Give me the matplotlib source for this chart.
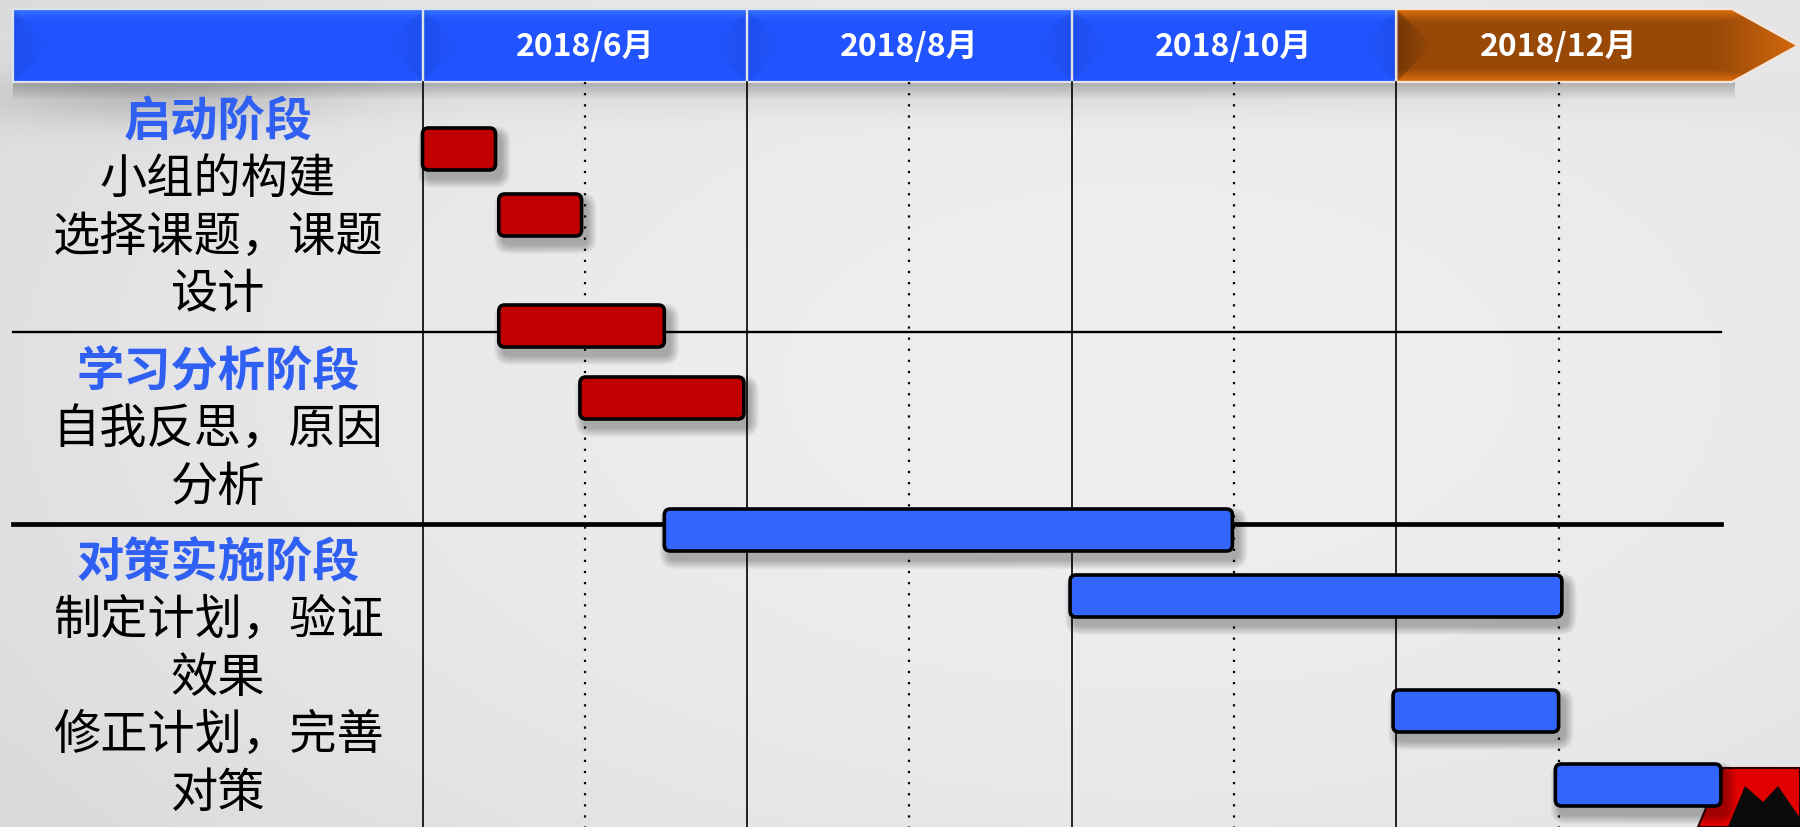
import numpy as np
import matplotlib.pyplot as plt
from matplotlib.patches import FancyBboxPatch, Polygon, Rectangle

plt.rcParams['font.family'] = ['Noto Sans CJK SC', 'DejaVu Sans']

# header periods, each one spans two months starting from 2018/6
periods = ['2018/6月', '2018/8月', '2018/10月', '2018/12月']
period_kind = ['blue', 'blue', 'blue', 'orange']

# phase names and the steps listed under them
phase_titles = ['启动阶段', '学习分析阶段', '对策实施阶段']
phase_items = [
    ['小组的构建', '选择课题，课题', '设计'],
    ['自我反思，原因', '分析'],
    ['制定计划，验证', '效果', '修正计划，完善', '对策'],
]

# tasks, in months counted from 2018/6/1
task_start = [0.0, 0.47, 0.47, 0.97, 1.49, 3.99, 5.98, 6.98]
task_end = [0.45, 0.98, 1.49, 1.98, 4.99, 7.02, 7.00, 8.00]
task_group = ['red', 'red', 'red', 'red', 'blue', 'blue', 'blue', 'blue']

# ---- layout (pixels of the 1800x827 canvas) ----
W, H = 1800, 827
x0_px = 422.5          # where 2018/6 starts
px_month = 162.3       # pixels per month
row_y = [149, 215, 326, 398, 530, 596, 711, 785]
bar_h = 42
title_y = [122, 372, 563]
line_step = 57.7
head_top, head_bot = 9, 82
label_x = 218

colors = {'red': '#C00000', 'blue': '#3366FF'}
title_color = '#2F5FF3'


def to_month(px):
    return (px - x0_px) / px_month


fig = plt.figure(figsize=(18, 8.27), dpi=100)

# background axes in pixel units
bg = fig.add_axes([0, 0, 1, 1])
bg.set_xlim(0, W)
bg.set_ylim(H, 0)
bg.axis('off')

gy, gx = np.mgrid[0:H:200j, 0:W:400j]
r2 = ((gx - 1150) / 1300) ** 2 + ((gy - 380) / 700) ** 2
val = 0.935 - 0.07 * r2
# darker cloud under the left end of the header
val -= 0.13 * np.exp(-(((gx - 150) / 170) ** 2 + ((gy - 95) / 28) ** 2))
val -= 0.05 * np.exp(-(((gx - 1000) / 700) ** 2 + ((gy - 95) / 20) ** 2))
val = np.clip(val, 0.70, 0.96)
bg.imshow(np.dstack([val, val, val * 1.008]).clip(0, 1), extent=[0, W, H, 0],
          aspect='auto', zorder=0, interpolation='bicubic')

# shadow under the header
sh = np.linspace(0.25, 0.0, 40)[:, None] * np.ones((1, 10))
bg.imshow(np.dstack([np.zeros_like(sh)] * 3 + [sh]), extent=[13, 1735, 100, head_bot],
          aspect='auto', zorder=1, interpolation='bilinear')

# left column labels
for i, title in enumerate(phase_titles):
    bg.text(label_x, title_y[i], title, ha='center', va='center', fontsize=34,
            fontweight='bold', color=title_color, zorder=5)
    for j, item in enumerate(phase_items[i]):
        bg.text(label_x, title_y[i] + (j + 1) * line_step, item, ha='center',
                va='center', fontsize=34, color='black', zorder=5)

# logo corner at bottom right
bg.add_patch(Polygon([(1698, H), (1723, 768), (W, 768), (W, H)], closed=True,
                     facecolor='#E00000', edgecolor='#300000', lw=1.5, zorder=2))
bg.add_patch(Polygon([(1728, H), (1745, 786), (1763, 802), (1778, 786), (W, 818), (W, H)],
                     closed=True, facecolor='#0A0A0A', edgecolor='none', zorder=3))

# main axes: x in months, y in pixels
ax = fig.add_axes([0, 0, 1, 1])
ax.set_xlim(to_month(0), to_month(W))
ax.set_ylim(H, 0)
ax.axis('off')
ax.patch.set_alpha(0)


def cell_image(kind, w_px, h_px, nx=300, ny=73):
    yy, xx = np.mgrid[0:1:ny * 1j, 0:1:nx * 1j]
    dx = np.minimum(xx, 1 - xx) * w_px
    dxl = xx * w_px
    dy = np.minimum(yy, 1 - yy) * h_px
    if kind == 'orange':
        inner = np.array([0.60, 0.29, 0.03])
        outer = np.array([0.89, 0.44, 0.06])
        t = np.clip(1 - dy / 14, 0, 1) ** 1.3
        t = np.maximum(t, np.clip((xx - 0.80) / 0.2, 0, 1) * 0.8)
        img = inner * (1 - t[..., None]) + outer * t[..., None]
        side = ((dxl < dy) * np.clip(1 - dxl / (h_px / 2), 0, 1))[..., None]
        return (img * (1 - 0.25 * side)).clip(0, 1)
    base = np.array([0.13, 0.33, 1.0]) * np.ones((ny, nx, 1))
    top = np.clip(1 - yy / 0.15, 0, 1)[..., None]
    base = base + top * np.array([0.07, 0.12, 0.0])
    side = ((dx < dy) * np.clip(1 - dx / (h_px / 2), 0, 1))[..., None]
    base = base * (1 - 0.07 * side)
    return base.clip(0, 1)


# header cells
cell_edges = [to_month(13), 0]
head_h = head_bot - head_top
a, b = cell_edges
ax.imshow(cell_image('blue', (b - a) * px_month, head_h), extent=[a, b, head_bot, head_top],
          aspect='auto', zorder=2)
ax.add_patch(Rectangle((a, head_top), b - a, head_h, facecolor='none',
                       edgecolor='#DDE2EC', lw=1.6, zorder=3))

arrow_body = to_month(1732)
arrow_tip = to_month(1798)
for i, label in enumerate(periods):
    a = 2 * i
    b = a + 2
    if period_kind[i] == 'orange':
        mid = (head_top + head_bot) / 2
        poly = Polygon([(a, head_top), (arrow_body, head_top), (arrow_tip, mid),
                        (arrow_body, head_bot), (a, head_bot)], closed=True,
                       facecolor='none', edgecolor='#F4E6DA', lw=1.6, zorder=3)
        img = cell_image('orange', (arrow_tip - a) * px_month, head_h)
        im = ax.imshow(img, extent=[a, arrow_tip, head_bot, head_top], aspect='auto', zorder=2)
        ax.add_patch(poly)
        im.set_clip_path(poly)
    else:
        img = cell_image('blue', 2 * px_month, head_h)
        ax.imshow(img, extent=[a, b, head_bot, head_top], aspect='auto', zorder=2)
        ax.add_patch(Rectangle((a, head_top), 2, head_h, facecolor='none',
                               edgecolor='#DDE2EC', lw=1.6, zorder=3))
    ax.text(a + 1, (head_top + head_bot) / 2 + 1, label, ha='center', va='center',
            fontsize=23, fontweight='bold', color='white', zorder=4)

# grid lines
for m in [0, 2, 4, 6]:
    ax.plot([m, m], [head_bot, H], color='black', lw=1.2, zorder=4)
for m in [1, 3, 5, 7]:
    ax.plot([m, m], [head_bot, H], color='black', lw=1.6, ls=(0, (1, 4)), zorder=4)
ax.plot([to_month(13), 8], [332, 332], color='black', lw=1.7, zorder=4)
ax.plot([to_month(13), 8], [524, 524], color='black', lw=3.4, zorder=4)

# bars with soft shadow
asp = px_month
rs = 6 / px_month
for s, e, g, y in zip(task_start, task_end, task_group, row_y):
    w = e - s
    for k in range(6):
        grow = (6 - k) * 1.6
        ax.add_patch(FancyBboxPatch(
            (s + (5 - grow) / px_month, y - bar_h / 2 + 8 - grow), w + 2 * grow / px_month,
            bar_h + 2 * grow, boxstyle='round,pad=0,rounding_size=%f' % (rs + grow / px_month),
            mutation_aspect=asp, facecolor='black', edgecolor='none', alpha=0.05, zorder=5))
    ax.add_patch(FancyBboxPatch(
        (s, y - bar_h / 2), w, bar_h, boxstyle='round,pad=0,rounding_size=%f' % rs,
        mutation_aspect=asp, facecolor=colors[g], edgecolor='black', lw=2.6, zorder=6))

fig.savefig('out.png', dpi=100)
